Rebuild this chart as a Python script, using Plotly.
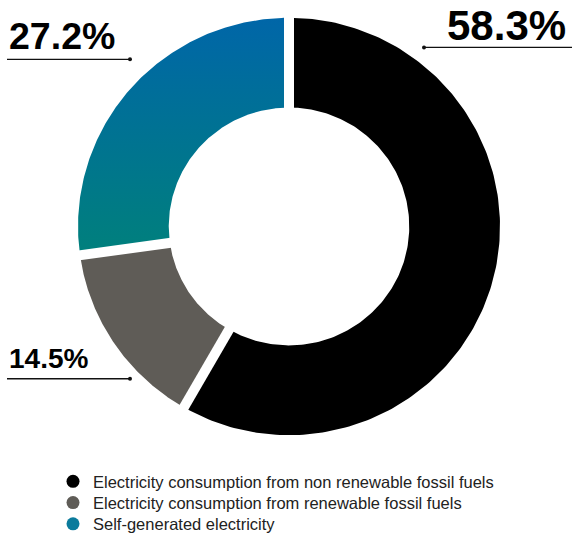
import numpy as np
import plotly.graph_objects as go

# Shares of electricity consumption (%)
categories = [
    "Electricity consumption from non renewable fossil fuels",
    "Electricity consumption from renewable fossil fuels",
    "Self-generated electricity",
]
values = [58.3, 14.5, 27.2]
value_labels = ["58.3%", "14.5%", "27.2%"]

slice_colors = ["#000000", "#5f5c57", None]
legend_colors = ["#000000", "#5f5c57", "#0b7b9c"]
gradient_scale = [[0.0, "#00807c"], [1.0, "#0066a8"]]

W, H = 573, 542
CX, CY, R_PX = 289, 229, 211      # donut centre and outer radius in pixels
HOLE = 0.57                       # inner radius as a fraction of outer

fig = go.Figure()

# Cumulative angles (clockwise from 12 o'clock)
total = sum(values)
bounds = np.concatenate([[0.0], np.cumsum(values)]) / total * 2 * np.pi


def ring_path(a0, a1, n=200):
    t = np.linspace(a0, a1, n)
    xo, yo = np.sin(t), np.cos(t)
    xi, yi = HOLE * np.sin(t[::-1]), HOLE * np.cos(t[::-1])
    xs = np.concatenate([xo, xi, [xo[0]]])
    ys = np.concatenate([yo, yi, [yo[0]]])
    return xs, ys


for i, name in enumerate(categories):
    xs, ys = ring_path(bounds[i], bounds[i + 1])
    kw = dict(x=xs, y=ys, mode="lines", fill="toself", line=dict(width=0),
              hoverinfo="skip", showlegend=False)
    if slice_colors[i] is None:
        kw["fillcolor"] = "#0066a8"
        kw["fillgradient"] = dict(type="vertical", colorscale=gradient_scale)
    else:
        kw["fillcolor"] = slice_colors[i]
    fig.add_trace(go.Scatter(**kw))

# White separators between slices
for a in bounds[:-1]:
    fig.add_trace(go.Scatter(
        x=[0.4 * np.sin(a), 1.1 * np.sin(a)], y=[0.4 * np.cos(a), 1.1 * np.cos(a)],
        mode="lines", line=dict(color="white", width=10), hoverinfo="skip",
        showlegend=False))


def px(x):
    return x / W


def py(y):
    return 1 - y / H


# Legend: one legend per row so the row spacing can be set exactly
legend_rows_y = [487, 508.5, 530]
legend_font = dict(family="Liberation Sans, Arial", size=16.5, color="#222")
legend_layout = {}
for i, (name, col) in enumerate(zip(categories, legend_colors)):
    key = "legend" if i == 0 else f"legend{i + 1}"
    fig.add_trace(go.Scatter(x=[None], y=[None], mode="markers", name=name,
                             legend=key,
                             marker=dict(color=col, size=13, symbol="circle")))
    legend_layout[key] = dict(x=px(53), y=py(legend_rows_y[i]), xanchor="left",
                              yanchor="middle", font=legend_font, itemwidth=30,
                              bgcolor="rgba(0,0,0,0)")

# Value callouts: label text, leader line and end dot (pixel layout)
callouts = [
    # text, font size, text x, baseline y, anchor, line x0, line x1, line y, dot x
    (value_labels[0], 42, 568, 40, "right", 424, 572, 48, 424),
    (value_labels[1], 28, 7, 373, "left", 7, 130, 383, 130),
    (value_labels[2], 37.5, 7, 50, "left", 7, 130, 60, 130),
]

for text, size, tx, ty, anchor, lx0, lx1, ly, dx in callouts:
    fig.add_annotation(
        text=f"<b>{text}</b>", xref="paper", yref="paper",
        x=px(tx), y=py(ty + 0.27 * size), xanchor=anchor, yanchor="bottom",
        showarrow=False, font=dict(family="Liberation Sans, Arial", size=size, color="#000"))
    fig.add_shape(type="line", xref="paper", yref="paper",
                  x0=px(lx0), x1=px(lx1), y0=py(ly), y1=py(ly),
                  line=dict(color="#111", width=1.3))
    fig.add_shape(type="circle", xref="paper", yref="paper",
                  x0=px(dx - 2), x1=px(dx + 2), y0=py(ly - 2), y1=py(ly + 2),
                  fillcolor="#111", line=dict(width=0))

fig.update_layout(
    width=W, height=H, margin=dict(l=0, r=0, t=0, b=0),
    paper_bgcolor="white", plot_bgcolor="white",
    xaxis=dict(range=[-CX / R_PX, (W - CX) / R_PX], visible=False, fixedrange=True),
    yaxis=dict(range=[-(H - CY) / R_PX, CY / R_PX], visible=False, fixedrange=True),
    showlegend=True,
    **legend_layout,
)

fig.write_html("out.html")
